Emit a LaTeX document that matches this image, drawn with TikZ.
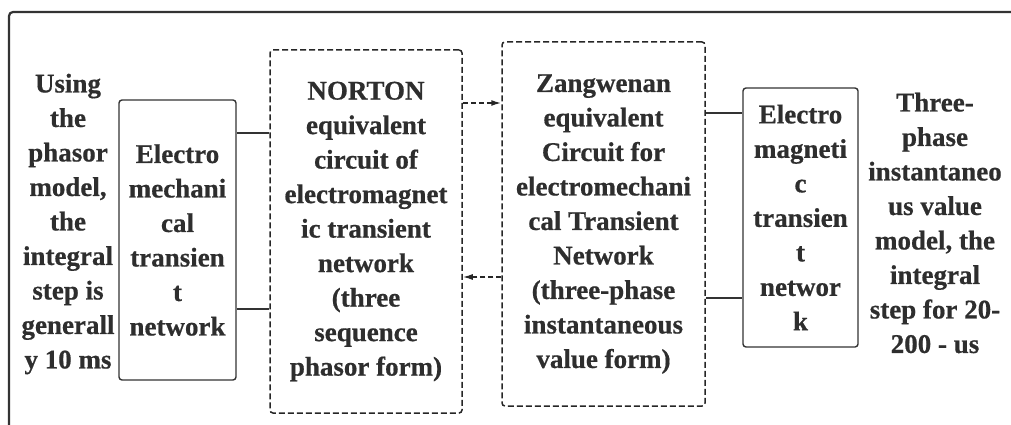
\documentclass[tikz,border=0pt]{standalone}
\usepackage{fontspec}
\setmainfont{Liberation Serif}[BoldFeatures={FakeBold=0.6}]
\usetikzlibrary{arrows.meta}
\begin{document}
\begin{tikzpicture}[x=1pt,y=-1pt,
    every node/.style={font=\bfseries\fontsize{27}{34.5}\selectfont,text=black!82,align=center},
    solidbox/.style={draw=black!80,line width=1.4pt,rounded corners=3pt},
    dashbox/.style={draw=black!85,dash pattern=on 6pt off 3pt,line width=1.5pt,rounded corners=3pt},
    link/.style={draw=black!80,line width=1.4pt},
    flow/.style={draw=black!85,dash pattern=on 5pt off 3pt,line width=1.5pt,-{Latex[length=10pt,width=6pt]}}]
      \useasboundingbox (0,0) rectangle (1011,425);
      % Frame
      \draw[black!80,line width=2.2pt,rounded corners=4pt] (1011,12) -- (9,12) -- (9,425);
      % Phasor side
      \node (phasortext) at (68,224) {Using\\the\\phasor\\model,\\the\\integral\\step is\\generall\\y 10 ms};
      \node[solidbox,minimum width=117pt,minimum height=280pt] (elec) at (177.5,240)
        {Electro\\mechani\\cal\\transien\\t\\network};
      \node[dashbox,minimum width=192pt,minimum height=363pt] (norton) at (366,231.5)
        {NORTON\\equivalent\\circuit of\\electromagnet\\ic transient\\network\\(three\\sequence\\phasor form)};
      % Instantaneous side
      \node[dashbox,minimum width=203pt,minimum height=364pt] (zang) at (603.5,224)
        {Zangwenan\\equivalent\\Circuit for\\electromechani\\cal Transient\\Network\\(three-phase\\instantaneous\\value form)};
      \node[solidbox,minimum width=115pt,minimum height=259pt] (emag) at (800.5,217.5)
        {Electro\\magneti\\c\\transien\\t\\networ\\k};
      \node (instanttext) at (935,223) {Three-\\phase\\instantaneo\\us value\\model, the\\integral\\step for 20-\\200 - us};
      % Connections
      \coordinate (ya) at (0,133);
      \coordinate (yb) at (0,309);
      \coordinate (yc) at (0,103);
      \coordinate (yd) at (0,277);
      \coordinate (ye) at (0,113);
      \coordinate (yf) at (0,298);
      \draw[link] (elec.east |- ya) -- (norton.west |- ya);
      \draw[link] (elec.east |- yb) -- (norton.west |- yb);
      \draw[flow] (norton.east |- yc) -- (zang.west |- yc);
      \draw[flow] (zang.west |- yd) -- (norton.east |- yd);
      \draw[link] (zang.east |- ye) -- (emag.west |- ye);
      \draw[link] (zang.east |- yf) -- (emag.west |- yf);
\end{tikzpicture}
\end{document}
